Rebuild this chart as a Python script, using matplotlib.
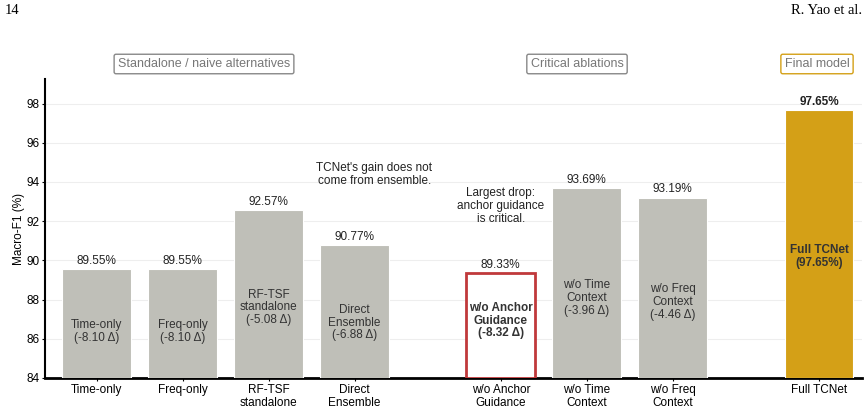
import numpy as np
import matplotlib
matplotlib.use("Agg")
from matplotlib import pyplot as plt

# Data
names = ["Time-only", "Freq-only", "RF-TSF\nstandalone", "Direct\nEnsemble",
         "w/o Anchor\nGuidance", "w/o Time\nContext", "w/o Freq\nContext", "Full TCNet"]
scores = [89.55, 89.55, 92.57, 90.77, 89.33, 93.69, 93.19, 97.65]
inner_text = ["Time-only\n(-8.10 Δ)", "Freq-only\n(-8.10 Δ)", "RF-TSF\nstandalone\n(-5.08 Δ)",
              "Direct\nEnsemble\n(-6.88 Δ)", "w/o Anchor\nGuidance\n(-8.32 Δ)",
              "w/o Time\nContext\n(-3.96 Δ)", "w/o Freq\nContext\n(-4.46 Δ)",
              "Full TCNet\n(97.65%)"]
groups = ["Standalone / naive alternatives", "Critical ablations", "Final model"]

# layout
xpos = [0, 1, 2, 3, 4.7, 5.7, 6.7, 8.4]
inner_y = [86.36, 86.36, 87.6, 86.83, 86.93, 88.1, 87.87, 90.2]
GRAY = "#bfbfb8"
GOLD = "#d4a017"
RED = "#c0393b"
FS = 8.5

plt.rcParams['font.family'] = ['Liberation Sans', 'DejaVu Sans']

fig = plt.figure(figsize=(8.68, 4.12), dpi=100)
ax = fig.add_axes([45/868, 1 - 378/412, (862 - 45)/868, (378 - 79)/412])

for i, (x, v) in enumerate(zip(xpos, scores)):
    if i == 4:
        ax.bar(x, v - 84, width=0.8, bottom=84, color="white", edgecolor=RED,
               linewidth=2, zorder=3)
    elif i == 7:
        ax.bar(x, v - 84, width=0.8, bottom=84, color=GOLD, edgecolor="white",
               linewidth=0.8, zorder=3)
    else:
        ax.bar(x, v - 84, width=0.8, bottom=84, color=GRAY, edgecolor="white",
               linewidth=0.8, zorder=3)
    bold = i in (4, 7)
    ax.text(x, v + 0.12, f"{v:.2f}%", ha="center", va="bottom", fontsize=FS,
            fontweight="bold" if i == 7 else "normal", color="#222222", zorder=4)
    ax.text(x, inner_y[i], inner_text[i], ha="center", va="center", fontsize=FS,
            fontweight="bold" if bold else "normal", color="#333333",
            linespacing=1.1, zorder=4)

ax.text(3.23, 94.4, "TCNet's gain does not\ncome from ensemble.", ha="center",
        va="center", fontsize=FS, color="#222222", linespacing=1.1)
ax.text(xpos[4], 92.76, "Largest drop:\nanchor guidance\nis critical.", ha="center",
        va="center", fontsize=FS, color="#222222", linespacing=1.1)

ax.set_xlim(-0.6, 8.9)
ax.set_ylim(84, 99.25)
ax.set_yticks(np.arange(84, 99, 2))
ax.set_xticks(xpos)
ax.set_xticklabels(names, fontsize=FS, linespacing=1.1)
ax.tick_params(axis="y", labelsize=FS, length=2.5, width=0.8, pad=1.5)
ax.tick_params(axis="x", length=2.5, width=0.8, pad=2)
ax.set_ylabel("Macro-F1 (%)", fontsize=FS)
ax.yaxis.set_label_coords(-0.025, 0.5)
ax.grid(axis="y", color="#eeeeee", linewidth=0.8, zorder=0)
ax.set_axisbelow(True)
for s in ["top", "right"]:
    ax.spines[s].set_visible(False)
ax.spines["left"].set_linewidth(1.5)
ax.spines["bottom"].set_linewidth(2)

# group headers
box_x = [204, 577, 817]
box_col = ["#888888", "#888888", GOLD]
for g, bx, bc in zip(groups, box_x, box_col):
    fig.text(bx/868, 1 - 64/412, g, ha="center", va="center", fontsize=FS + 0.5,
             color="#777777",
             bbox=dict(boxstyle="round,pad=0.3,rounding_size=0.15", fc="white", ec=bc, lw=1))

# page header
fig.text(5/868, 1 - 11/412, "14", ha="left", va="center", fontsize=10.5,
         family="Liberation Serif")
fig.text(862/868, 1 - 11/412, "R. Yao et al.", ha="right", va="center", fontsize=10.5,
         family="Liberation Serif")

fig.savefig("out.png", dpi=100)
